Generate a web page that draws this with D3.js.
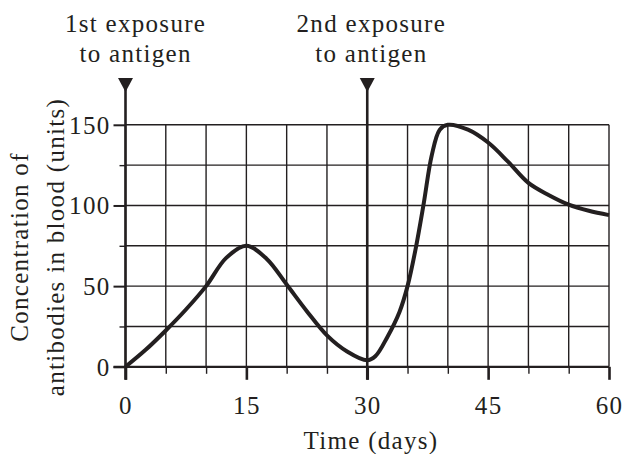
<!DOCTYPE html>
<html>
<head>
<meta charset="utf-8">
<script src="https://cdn.jsdelivr.net/npm/d3@7"></script>
<style>
    body { margin: 0; background: #fff; }
    text { font-family: "Liberation Serif", "Times New Roman", serif; fill: #231f20; }
</style>
</head>
<body>
<svg id="chart" width="626" height="454"></svg>
<script>
// Antibody concentration
const days = [0, 2.5, 5, 7.5, 10, 12.5, 15, 17.5, 20, 22.5, 25, 27.5, 30, 31, 32.5, 34, 35, 36, 37, 38, 39, 40, 42.5, 45, 47.5, 50, 52.5, 55, 57.5, 60];
const antibodies = [0, 10.5, 22.5, 35.5, 50, 67.5, 75, 67, 51, 34.5, 19.5, 9.5, 4, 6.5, 18.5, 34, 50, 73, 101, 131, 147, 150, 147, 139, 127, 114, 106.5, 100.5, 96.7, 94];

const xTicks = [0, 15, 30, 45, 60];
const yTicks = [0, 50, 100, 150];
const xGrid = d3.range(0, 61, 5);
const yGrid = d3.range(0, 151, 25);
const exposures = [
    { day: 0, lines: ["1st exposure", "to antigen"], dx: 9.5 },
    { day: 30, lines: ["2nd exposure", "to antigen"], dx: 3.5 }
];
const yTitle = ["Concentration of", "antibodies in blood (units)"];
const xTitle = "Time (days)";

const ink = "#231f20";
const fontSize = 25;
const spacing = "1.3px";
const svg = d3.select("#chart");

const x = d3.scaleLinear().domain([0, 60]).range([125.5, 609]);
const y = d3.scaleLinear().domain([0, 150]).range([366.8, 124.8]);

// grid
const grid = svg.append("g").attr("class", "grid").attr("stroke", ink).attr("stroke-width", 1.4);
grid.selectAll(".vgrid")
    .data(xGrid)
    .enter()
    .append("line")
    .attr("x1", (d) => x(d))
    .attr("x2", (d) => x(d))
    .attr("y1", y(0))
    .attr("y2", y(150));
grid.selectAll(".hgrid")
    .data(yGrid)
    .enter()
    .append("line")
    .attr("x1", x(0))
    .attr("x2", x(60))
    .attr("y1", (d) => y(d))
    .attr("y2", (d) => y(d));

// x axis: minor and major ticks
const xMinor = svg.append("g")
    .attr("transform", `translate(0,${y(0)})`)
    .call(d3.axisBottom(x).tickValues(xGrid.filter((d) => d % 15 != 0)).tickSize(7).tickFormat(""));
xMinor.select(".domain").remove();
xMinor.selectAll("line").attr("stroke", ink).attr("stroke-width", 1.4);

const xMajor = svg.append("g")
    .attr("transform", `translate(0,${y(0)})`)
    .call(d3.axisBottom(x).tickValues(xTicks).tickSize(13).tickPadding(17));
xMajor.select(".domain").attr("d", `M${x(0) - 12},0H${x(60)}`).attr("stroke", ink).attr("stroke-width", 2.2);
xMajor.selectAll("line").attr("stroke", ink).attr("stroke-width", 2.6);
xMajor.selectAll("text")
    .attr("font-size", fontSize)
    .attr("letter-spacing", spacing)
    .attr("dy", "0.68em")
    .style("font-family", '"Liberation Serif", serif')
    .attr("fill", ink);

// y axis
const yMinor = svg.append("g")
    .attr("transform", `translate(${x(0)},0)`)
    .call(d3.axisLeft(y).tickValues(yGrid.filter((d) => d % 50 != 0)).tickSize(6).tickFormat(""));
yMinor.select(".domain").remove();
yMinor.selectAll("line").attr("stroke", ink).attr("stroke-width", 1.4);

const yMajor = svg.append("g")
    .attr("transform", `translate(${x(0)},0)`)
    .call(d3.axisLeft(y).tickValues(yTicks).tickSize(12).tickPadding(3));
yMajor.select(".domain").remove();
yMajor.selectAll("line").attr("stroke", ink).attr("stroke-width", 2);
yMajor.selectAll("text")
    .attr("font-size", fontSize)
    .attr("letter-spacing", spacing)
    .attr("dy", "0.33em")
    .style("font-family", '"Liberation Serif", serif')
    .attr("fill", ink);

// exposure markers
exposures.forEach((e) => {
    const cx = x(e.day);
    svg.append("line")
        .attr("x1", cx)
        .attr("x2", cx)
        .attr("y1", y(0) + 13)
        .attr("y2", 88)
        .attr("stroke", ink)
        .attr("stroke-width", 2.6);
    svg.append("path")
        .attr("d", `M${cx - 7.5},78L${cx + 7.5},78L${cx},92Z`)
        .attr("fill", ink);
    e.lines.forEach((t, i) => {
        svg.append("text")
            .attr("x", cx + e.dx + 0.6)
            .attr("y", 32 + i * 30)
            .attr("text-anchor", "middle")
            .attr("font-size", fontSize)
            .attr("letter-spacing", spacing)
            .text(t);
    });
});

// curve
const line = d3.line()
    .x((d, i) => x(days[i]))
    .y((d) => y(d))
    .curve(d3.curveCatmullRom.alpha(0.5));

svg.append("path")
    .datum(antibodies)
    .attr("fill", "none")
    .attr("stroke", ink)
    .attr("stroke-width", 4)
    .attr("stroke-linejoin", "round")
    .attr("d", line);

// axis titles
svg.append("text")
    .attr("x", 371)
    .attr("y", 449)
    .attr("text-anchor", "middle")
    .attr("font-size", fontSize)
    .attr("letter-spacing", spacing)
    .text(xTitle);

yTitle.forEach((t, i) => {
    svg.append("text")
        .attr("transform", `translate(${28 + i * 36},247) rotate(-90)`)
        .attr("text-anchor", "middle")
        .attr("font-size", fontSize)
        .attr("letter-spacing", spacing)
        .text(t);
});
</script>
</body>
</html>
